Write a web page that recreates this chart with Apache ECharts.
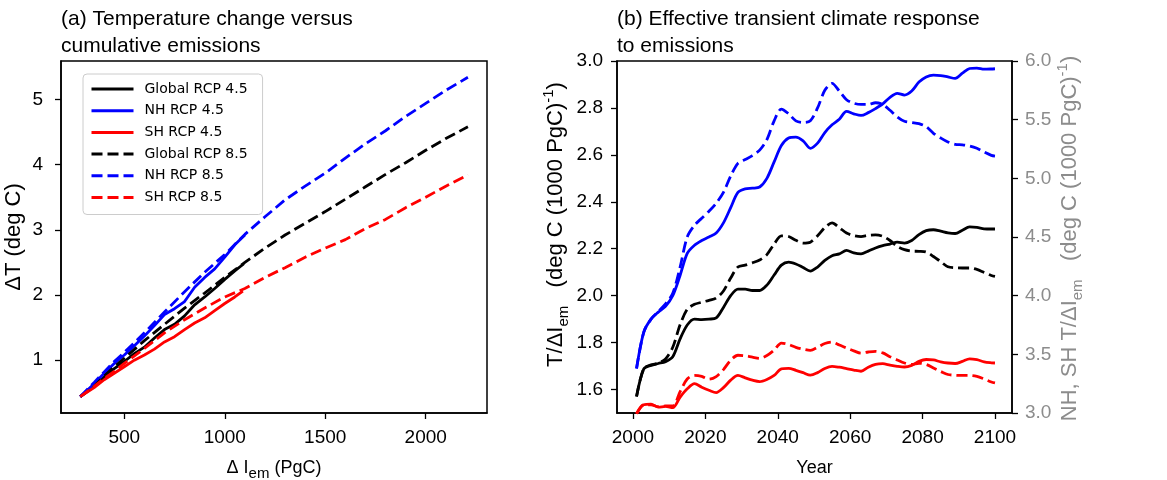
<!DOCTYPE html>
<html>
<head>
<meta charset="utf-8">
<script src="https://cdn.jsdelivr.net/npm/echarts@6/dist/echarts.min.js"></script>
<style>
  html, body { margin: 0; padding: 0; background: #ffffff; }
  #chart { width: 1167px; height: 480px; }
</style>
</head>
<body>
<div id="chart"></div>
<script>
// ---------- Panel (a): warming against cumulative emissions ----------
const EM_GLOBAL_45 = [281, 350, 400, 450, 500, 550, 600, 650, 700, 750, 800, 850, 900, 950, 1000, 1050, 1095];
const DT_GLOBAL_45 = [0.44, 0.60, 0.74, 0.87, 0.98, 1.10, 1.20, 1.34, 1.47, 1.55, 1.68, 1.85, 1.97, 2.10, 2.24, 2.37, 2.48];
const EM_NH_45 = [281, 350, 400, 450, 500, 550, 600, 650, 700, 750, 800, 850, 900, 950, 1000, 1050, 1100];
const DT_NH_45 = [0.44, 0.64, 0.80, 0.95, 1.08, 1.22, 1.37, 1.53, 1.70, 1.79, 1.90, 2.12, 2.27, 2.40, 2.58, 2.77, 2.92];
const EM_SH_45 = [281, 350, 400, 450, 500, 550, 600, 650, 700, 750, 800, 850, 900, 950, 1000, 1050, 1090];
const DT_SH_45 = [0.44, 0.58, 0.70, 0.80, 0.90, 1.00, 1.08, 1.17, 1.28, 1.36, 1.47, 1.57, 1.65, 1.76, 1.87, 1.97, 2.06];
const EM_85 = [281, 350, 400, 450, 500, 600, 700, 800, 900, 1000, 1100, 1200, 1300, 1400, 1500, 1600, 1700, 1800, 1900, 2000, 2100, 2210];
const DT_GLOBAL_85 = [0.44, 0.62, 0.76, 0.90, 1.03, 1.30, 1.55, 1.80, 2.03, 2.27, 2.50, 2.72, 2.92, 3.10, 3.28, 3.47, 3.66, 3.85, 4.03, 4.22, 4.40, 4.58];
const DT_NH_85 = [0.44, 0.66, 0.82, 0.98, 1.12, 1.42, 1.74, 2.05, 2.35, 2.62, 2.93, 3.20, 3.46, 3.67, 3.87, 4.10, 4.32, 4.52, 4.74, 4.94, 5.14, 5.34];
const DT_SH_85 = [0.44, 0.60, 0.72, 0.83, 0.95, 1.18, 1.42, 1.62, 1.80, 1.97, 2.10, 2.27, 2.42, 2.58, 2.72, 2.85, 3.02, 3.16, 3.34, 3.50, 3.67, 3.84];

const EM_TICKS = [500, 1000, 1500, 2000];
const DT_TICKS = [1, 2, 3, 4, 5];

// ---------- Panel (b): effective TCRE by year ----------
const YEARS = [2001, 2003, 2005, 2007, 2009, 2011, 2013, 2015, 2017, 2019,
               2021, 2023, 2025, 2027, 2029, 2031, 2033, 2035, 2037, 2039,
               2041, 2043, 2045, 2047, 2049, 2051, 2053, 2055, 2057, 2059,
               2061, 2063, 2065, 2067, 2069, 2071, 2073, 2075, 2077, 2079,
               2081, 2083, 2085, 2087, 2089, 2091, 2093, 2095, 2097, 2099, 2100];
// global values, left axis
const TCRE_GLOBAL_45 = [1.570, 1.688, 1.703, 1.711, 1.719, 1.740, 1.815, 1.875, 1.900, 1.898,
                        1.900, 1.905, 1.950, 2.000, 2.028, 2.028, 2.022, 2.022, 2.045, 2.088,
                        2.130, 2.143, 2.135, 2.120, 2.105, 2.122, 2.150, 2.170, 2.178, 2.193,
                        2.182, 2.178, 2.190, 2.203, 2.213, 2.220, 2.228, 2.224, 2.235, 2.260,
                        2.277, 2.281, 2.275, 2.268, 2.265, 2.279, 2.293, 2.291, 2.285, 2.284, 2.284];
const TCRE_GLOBAL_85 = [1.570, 1.690, 1.705, 1.713, 1.730, 1.780, 1.875, 1.942, 1.963, 1.972,
                        1.980, 1.990, 2.020, 2.075, 2.122, 2.130, 2.140, 2.152, 2.175, 2.220,
                        2.255, 2.252, 2.236, 2.224, 2.228, 2.255, 2.290, 2.310, 2.290, 2.267,
                        2.256, 2.252, 2.257, 2.259, 2.253, 2.235, 2.210, 2.196, 2.190, 2.189,
                        2.186, 2.167, 2.145, 2.123, 2.119, 2.118, 2.118, 2.112, 2.099, 2.086, 2.082];
// hemispheric values, right axis
const TCRE_NH_45 = [3.38, 3.69, 3.80, 3.86, 3.91, 4.00, 4.17, 4.36, 4.43, 4.47,
                    4.50, 4.534, 4.62, 4.75, 4.88, 4.91, 4.916, 4.926, 5.00, 5.14,
                    5.28, 5.344, 5.352, 5.32, 5.256, 5.30, 5.39, 5.456, 5.504, 5.57,
                    5.55, 5.536, 5.56, 5.594, 5.634, 5.69, 5.724, 5.71, 5.744, 5.82,
                    5.864, 5.88, 5.876, 5.864, 5.852, 5.896, 5.936, 5.94, 5.93, 5.932, 5.934];
const TCRE_NH_85 = [3.38, 3.69, 3.80, 3.864, 3.93, 4.02, 4.24, 4.50, 4.60, 4.66,
                    4.72, 4.788, 4.88, 5.02, 5.128, 5.16, 5.194, 5.24, 5.33, 5.49,
                    5.59, 5.55, 5.49, 5.476, 5.49, 5.60, 5.75, 5.81, 5.744, 5.67,
                    5.64, 5.63, 5.63, 5.644, 5.63, 5.58, 5.524, 5.486, 5.476, 5.466,
                    5.44, 5.384, 5.344, 5.31, 5.29, 5.286, 5.276, 5.256, 5.224, 5.196, 5.19];
const TCRE_SH_45 = [2.994, 3.07, 3.076, 3.05, 3.056, 3.046, 3.134, 3.206, 3.25, 3.22,
                    3.194, 3.174, 3.216, 3.28, 3.32, 3.30, 3.28, 3.268, 3.286, 3.32,
                    3.376, 3.38, 3.364, 3.344, 3.322, 3.344, 3.38, 3.398, 3.39, 3.378,
                    3.366, 3.356, 3.39, 3.414, 3.42, 3.408, 3.398, 3.392, 3.406, 3.44,
                    3.456, 3.452, 3.436, 3.426, 3.422, 3.44, 3.462, 3.454, 3.436, 3.428, 3.426];
const TCRE_SH_85 = [2.994, 3.07, 3.07, 3.054, 3.06, 3.06, 3.18, 3.29, 3.32, 3.312,
                    3.288, 3.31, 3.37, 3.45, 3.492, 3.488, 3.476, 3.466, 3.49, 3.536,
                    3.596, 3.584, 3.56, 3.544, 3.534, 3.56, 3.592, 3.604, 3.58, 3.554,
                    3.53, 3.51, 3.52, 3.526, 3.512, 3.48, 3.452, 3.426, 3.414, 3.424,
                    3.414, 3.384, 3.354, 3.328, 3.322, 3.32, 3.32, 3.312, 3.29, 3.264, 3.256];

const YEAR_TICKS = [2000, 2020, 2040, 2060, 2080, 2100];
const TCRE_TICKS = [1.6, 1.8, 2.0, 2.2, 2.4, 2.6, 2.8, 3.0];

const NAMES = ['Global RCP 4.5', 'NH RCP 4.5', 'SH RCP 4.5', 'Global RCP 8.5', 'NH RCP 8.5', 'SH RCP 8.5'];

// ---------- styling ----------
const FONT = "'Liberation Sans', Arial, sans-serif";
const LEGEND_FONT = "'DejaVu Sans', sans-serif";
const BLACK = '#000000', BLUE = '#0000ff', RED = '#ff0000', GRAY = '#8c8c8c';
const LW = 2.8;
const DASH = [11, 5];
const TICK_FS = 19;

const pairs = (xs, ys) => xs.map((x, i) => [x, ys[i]]);
const plain = (v) => String(v);
const oneDecimal = (v) => v.toFixed(1);

function lineSeries(name, color, dashed, xIdx, yIdx, data, smooth) {
  return {
    name, type: 'line', xAxisIndex: xIdx, yAxisIndex: yIdx, data,
    symbol: 'none', smooth: smooth || false, silent: true, clip: true,
    lineStyle: { color, width: LW, type: dashed ? DASH : 'solid', cap: 'butt' },
    itemStyle: { color },
    emphasis: { disabled: true }
  };
}

const subRich = (color) => ({
  s: { fontSize: 15, lineHeight: 15, verticalAlign: 'bottom', fontFamily: FONT, color },
  p: { fontSize: 15, lineHeight: 15, verticalAlign: 'top', fontFamily: FONT, color }
});

function nameStyle(color, size, padding) {
  const s = { color, fontSize: size, fontFamily: FONT, lineHeight: size + 8, rich: subRich(color) };
  if (padding) s.padding = padding;
  return s;
}

function labelStyle(color, margin, extra) {
  return Object.assign({ color, fontSize: TICK_FS, fontFamily: FONT, margin }, extra);
}

function tickStyle(values) {
  const t = { show: true, inside: false, length: 6, lineStyle: { color: BLACK, width: 1.3 } };
  if (values) t.customValues = values;
  return t;
}

function valueAxis(extra) {
  return Object.assign({
    type: 'value',
    axisLine: { show: true, onZero: false, lineStyle: { color: BLACK, width: 1.5 } },
    splitLine: { show: false },
    nameLocation: 'middle'
  }, extra);
}

const chart = echarts.init(document.getElementById('chart'), null, { renderer: 'canvas' });

const titleStyle = { fontFamily: FONT, fontSize: 21, fontWeight: 'normal', color: BLACK, lineHeight: 27 };

const gridBase = { top: 61, height: 352, show: true, borderColor: BLACK, borderWidth: 1.5,
                   backgroundColor: 'transparent', containLabel: false, outerBoundsMode: 'none' };

const option = {
  animation: false,
  backgroundColor: '#ffffff',
  title: [
    { text: '(a) Temperature change versus\ncumulative emissions', left: 61, top: 6, padding: 0, textStyle: titleStyle },
    { text: '(b) Effective transient climate response\nto emissions', left: 617, top: 6, padding: 0, textStyle: titleStyle }
  ],
  legend: {
    data: NAMES,
    orient: 'vertical',
    left: 83, top: 74,
    padding: [8, 15, 10, 7],
    itemWidth: 42, itemHeight: 14, itemGap: 7.7,
    backgroundColor: '#ffffff',
    borderColor: '#cccccc', borderWidth: 1, borderRadius: 4,
    selectedMode: false,
    itemStyle: { color: 'rgba(0,0,0,0)', borderWidth: 0, opacity: 0 },
    lineStyle: { width: 3 },
    textStyle: { fontFamily: LEGEND_FONT, fontSize: 14, lineHeight: 14, color: '#000000', padding: [0, 0, 0, 6] }
  },
  grid: [
    Object.assign({ left: 61, width: 426 }, gridBase),
    Object.assign({ left: 617, width: 395 }, gridBase)
  ],
  xAxis: [
    valueAxis({
      gridIndex: 0, min: 185, max: 2305,
      axisLabel: labelStyle(BLACK, 15, { customValues: EM_TICKS, formatter: plain }),
      axisTick: tickStyle(EM_TICKS),
      name: '\u0394 I{s|em} (PgC)', nameGap: 42, nameTextStyle: nameStyle(BLACK, 18)
    }),
    valueAxis({
      gridIndex: 1, min: 1995.6, max: 2104.7,
      axisLabel: labelStyle(BLACK, 15, { customValues: YEAR_TICKS, formatter: plain }),
      axisTick: tickStyle(YEAR_TICKS),
      name: 'Year', nameGap: 42, nameTextStyle: nameStyle(BLACK, 18)
    })
  ],
  yAxis: [
    valueAxis({
      gridIndex: 0, min: 0.19, max: 5.59,
      axisLabel: labelStyle(BLACK, 18, { customValues: DT_TICKS, formatter: plain }),
      axisTick: tickStyle(DT_TICKS),
      name: '\u0394T (deg C)', nameGap: 29, nameRotate: 90, nameTextStyle: nameStyle(BLACK, 22)
    }),
    valueAxis({
      gridIndex: 1, min: 1.5, max: 3.0, position: 'left',
      axisLabel: labelStyle(BLACK, 14, { customValues: TCRE_TICKS, formatter: oneDecimal }),
      axisTick: tickStyle(TCRE_TICKS),
      name: 'T/\u0394I{s|em}   (deg C (1000 PgC){p|-1})', nameGap: 46, nameRotate: 90,
      nameTextStyle: nameStyle(BLACK, 22, [0, 0, 0, 25])
    }),
    valueAxis({
      gridIndex: 1, min: 3.0, max: 6.0, interval: 0.5, position: 'right',
      axisLabel: labelStyle(GRAY, 13, { formatter: oneDecimal }),
      axisTick: tickStyle(null),
      name: 'NH, SH T/\u0394I{s|em}   (deg C (1000 PgC){p|-1})', nameGap: 41, nameRotate: 90,
      nameTextStyle: nameStyle(GRAY, 22, [0, 3, 0, 0])
    })
  ],
  series: [
    lineSeries(NAMES[0], BLACK, false, 0, 0, pairs(EM_GLOBAL_45, DT_GLOBAL_45)),
    lineSeries(NAMES[1], BLUE, false, 0, 0, pairs(EM_NH_45, DT_NH_45)),
    lineSeries(NAMES[2], RED, false, 0, 0, pairs(EM_SH_45, DT_SH_45)),
    lineSeries(NAMES[3], BLACK, true, 0, 0, pairs(EM_85, DT_GLOBAL_85)),
    lineSeries(NAMES[4], BLUE, true, 0, 0, pairs(EM_85, DT_NH_85)),
    lineSeries(NAMES[5], RED, true, 0, 0, pairs(EM_85, DT_SH_85)),

    lineSeries(NAMES[0], BLACK, false, 1, 1, pairs(YEARS, TCRE_GLOBAL_45), 0.3),
    lineSeries(NAMES[1], BLUE, false, 1, 2, pairs(YEARS, TCRE_NH_45), 0.3),
    lineSeries(NAMES[2], RED, false, 1, 2, pairs(YEARS, TCRE_SH_45), 0.3),
    lineSeries(NAMES[3], BLACK, true, 1, 1, pairs(YEARS, TCRE_GLOBAL_85), 0.3),
    lineSeries(NAMES[4], BLUE, true, 1, 2, pairs(YEARS, TCRE_NH_85), 0.3),
    lineSeries(NAMES[5], RED, true, 1, 2, pairs(YEARS, TCRE_SH_85), 0.3)
  ]
};

chart.setOption(option);
</script>
</body>
</html>
